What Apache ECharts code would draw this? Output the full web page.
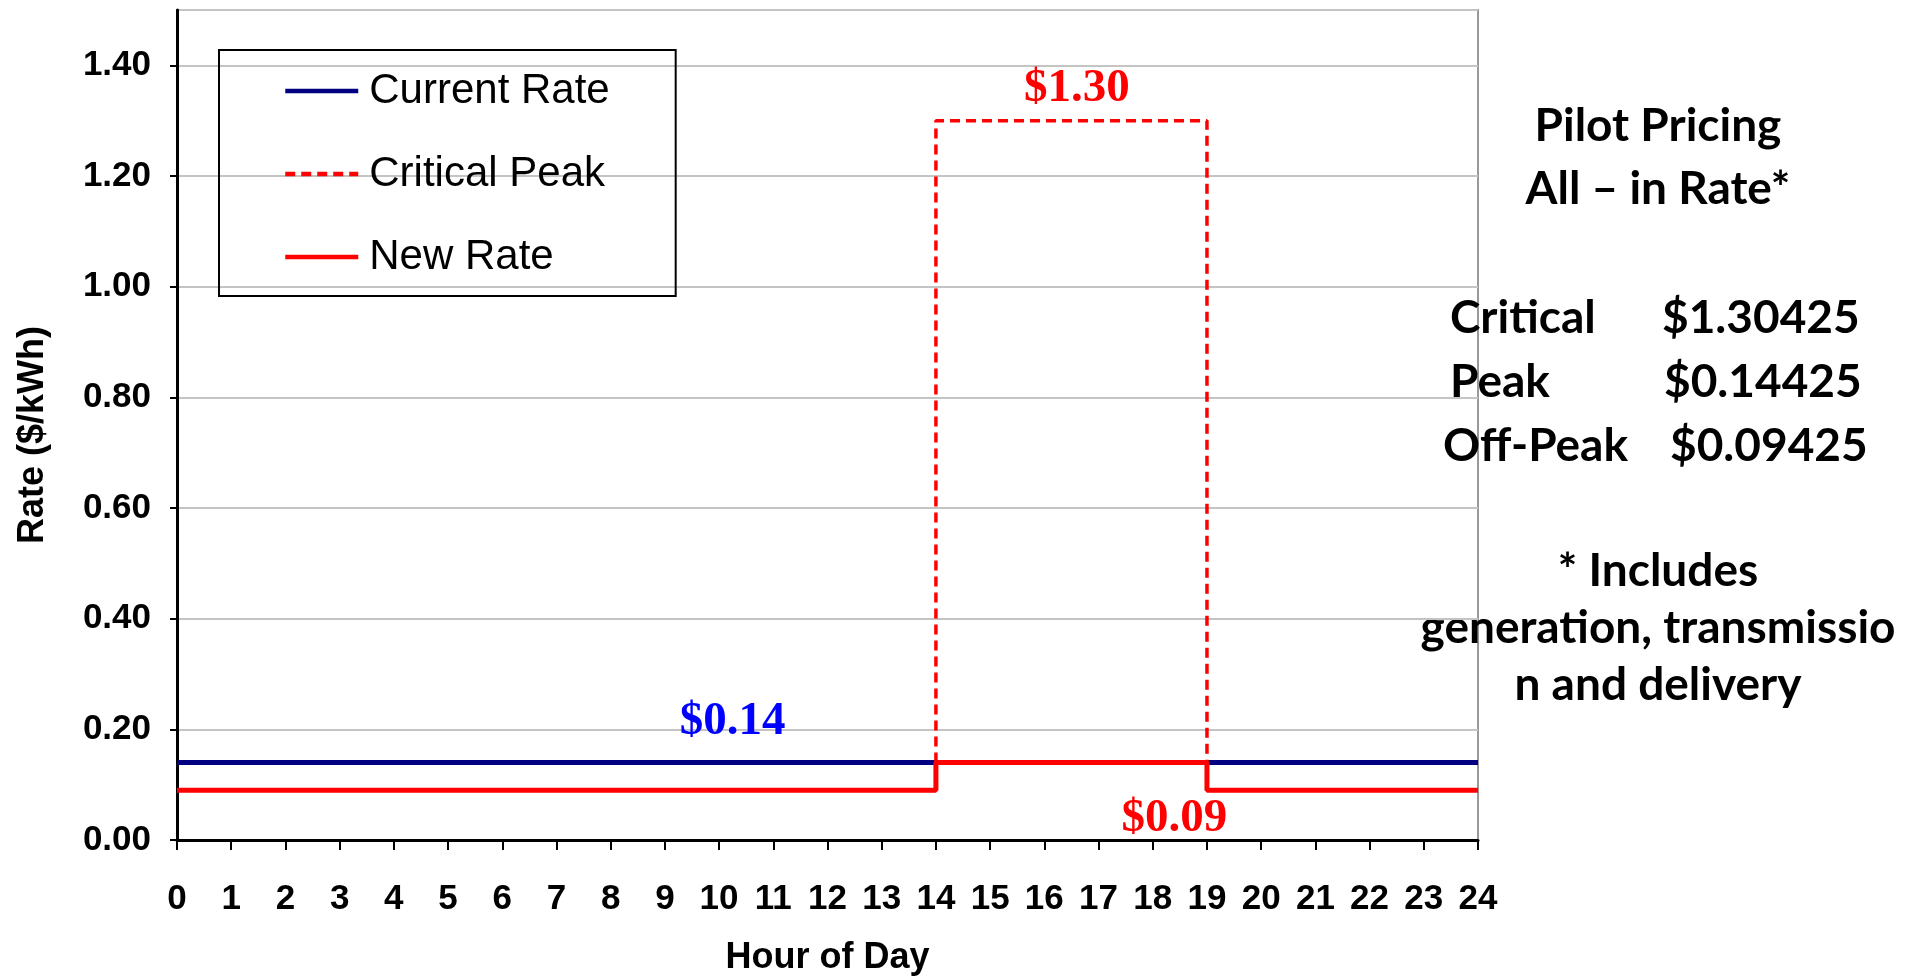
<!DOCTYPE html>
<html>
<head>
<meta charset="utf-8">
<script src="https://cdn.jsdelivr.net/npm/echarts@6/dist/echarts.min.js"></script>
<style>
  html, body { margin: 0; padding: 0; background: #fff; }
  #chart { width: 1912px; height: 976px; }
</style>
</head>
<body>
<div id="chart"></div>
<script>
// rate steps over the day (hour, $/kWh)
const currentRate = [[0, 0.14], [24, 0.14]];
const criticalPeak = [[14, 0.14], [14, 1.30], [19, 1.30], [19, 0.14]];
const newRate = [[0, 0.09], [14, 0.09], [14, 0.14], [19, 0.14], [19, 0.09], [24, 0.09]];
const seriesNames = ['Current Rate', 'Critical Peak', 'New Rate'];
const rateLabels = ['$0.14', '$1.30', '$0.09'];
const sideNotes = ['Pilot Pricing', 'All \u2013 in Rate*'];
const priceRows = [['Critical', '$1.30425'], ['Peak', '$0.14425'], ['Off-Peak', '$0.09425']];
const footNotes = ['* Includes', 'generation, transmissio', 'n and delivery'];

let chart = echarts.init(document.getElementById('chart'));

const sideFont = 'bold 46px Lato';
let graphics = [];
sideNotes.forEach((t, i) => {
  graphics.push({ type: 'text', x: 1658, y: 126 + i * 63, style: { text: t, font: sideFont, fill: '#000', textAlign: 'center', textVerticalAlign: 'middle' } });
});
const rowX = [[1450, 1662], [1450, 1664], [1443, 1670]];
priceRows.forEach((r, i) => {
  graphics.push({ type: 'text', x: rowX[i][0], y: 318 + i * 64, style: { text: r[0], font: sideFont, fill: '#000', textVerticalAlign: 'middle' } });
  graphics.push({ type: 'text', x: rowX[i][1], y: 318 + i * 64, style: { text: r[1], font: sideFont, fill: '#000', textVerticalAlign: 'middle' } });
});
footNotes.forEach((t, i) => {
  graphics.push({ type: 'text', x: 1658, y: 571 + i * 57, style: { text: t, font: sideFont, fill: '#000', textAlign: 'center', textVerticalAlign: 'middle' } });
});

function rateMark(text, color, coord) {
  return {
    symbol: 'rect', symbolSize: 0,
    label: { show: true, formatter: text, color: color, fontFamily: 'Liberation Serif', fontWeight: 'bold', fontSize: 47 },
    data: [{ coord: coord }]
  };
}

let option = {
  animation: false,
  grid: { left: 177, right: 434, top: 10, bottom: 136, outerBoundsMode: 'none', show: true, borderColor: '#999', borderWidth: 2 },
  legend: {
    orient: 'vertical',
    left: 219, top: 50,
    data: seriesNames,
    itemWidth: 73, itemHeight: 2, itemGap: 33,
    padding: [16, 66, 14, 64],
    borderColor: '#000', borderWidth: 2,
    lineStyle: { width: 4.5 },
    textStyle: { fontFamily: 'Liberation Sans', fontSize: 42, lineHeight: 50, color: '#000', padding: [0, 0, 0, 6] }
  },
  xAxis: {
    type: 'value', min: 0, max: 24, interval: 1,
    name: 'Hour of Day', nameLocation: 'middle', nameGap: 100,
    nameTextStyle: { fontFamily: 'Liberation Sans', fontWeight: 'bold', fontSize: 36, color: '#000' },
    axisLine: { lineStyle: { color: '#000', width: 3 } },
    axisTick: { length: 10, lineStyle: { color: '#000', width: 2 } },
    axisLabel: { margin: 42, fontFamily: 'Liberation Sans', fontWeight: 'bold', fontSize: 35, color: '#000' },
    splitLine: { show: false }
  },
  yAxis: {
    type: 'value', min: 0, max: 1.5, interval: 0.2,
    name: 'Rate ($/kWh)', nameLocation: 'middle', nameGap: 126,
    nameTextStyle: { fontFamily: 'Liberation Sans', fontWeight: 'bold', fontSize: 36, color: '#000', padding: [0, 20, 0, 0] },
    axisLine: { show: true, lineStyle: { color: '#000', width: 3 } },
    axisTick: { show: true, length: 7, lineStyle: { color: '#000', width: 2 } },
    axisLabel: { margin: 26, showMaxLabel: false, fontFamily: 'Liberation Sans', fontWeight: 'bold', fontSize: 35, color: '#000', formatter: v => v.toFixed(2) },
    splitLine: { lineStyle: { color: '#c4c4c4', width: 2 } }
  },
  graphic: graphics,
  series: [
    {
      name: seriesNames[0], type: 'line', data: currentRate, symbol: 'none',
      lineStyle: { color: '#000080', width: 5 }, itemStyle: { color: '#000080' },
      markPoint: rateMark(rateLabels[0], '#0000ff', [10.25, 0.213])
    },
    {
      name: seriesNames[1], type: 'line', data: criticalPeak, symbol: 'none',
      lineStyle: { color: '#ff0000', width: 3.5, type: [10, 6] }, itemStyle: { color: '#ff0000' },
      markPoint: rateMark(rateLabels[1], '#ff0000', [16.6, 1.357])
    },
    {
      name: seriesNames[2], type: 'line', data: newRate, symbol: 'none',
      lineStyle: { color: '#ff0000', width: 5 }, itemStyle: { color: '#ff0000' },
      markPoint: rateMark(rateLabels[2], '#ff0000', [18.4, 0.038])
    }
  ]
};
chart.setOption(option);
window.onresize = function () { chart.resize(); };
</script>
</body>
</html>
